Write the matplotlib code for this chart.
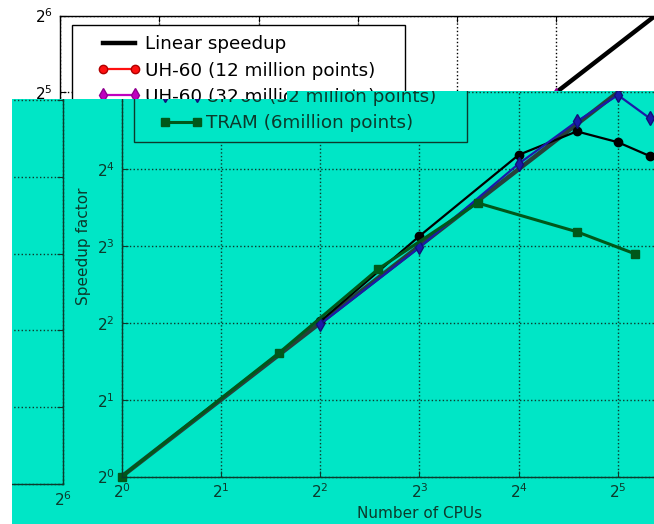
#!/usr/bin/env python3
import numpy as np
import matplotlib
matplotlib.use('Agg')
from matplotlib import pyplot as plt
from matplotlib.lines import Line2D
from matplotlib.legend_handler import HandlerLine2D
from matplotlib.patches import Polygon
from matplotlib.ticker import FixedLocator, NullLocator, FuncFormatter
from matplotlib.transforms import Bbox, TransformedBbox


W, H = 654, 524

linear_cpus = [1, 64]
linear_speedup = [1, 64]
uh60_12m_cpus = [4, 8, 16, 24, 32, 40]
uh60_12m_speedup = [4.05, 8.75, 18.2, 22.5, 20.4, 18.0]
uh60_32m_cpus = [4, 8, 16, 24, 32, 40]
uh60_32m_speedup = [3.95, 7.9, 16.8, 24.6, 31.2, 25.3]
tram_cpus = [1, 3, 6, 12, 24, 36]
tram_speedup = [1, 3.05, 6.5, 11.8, 9.1, 7.46]
powers = [0, 1, 2, 3, 4, 5, 6]
labels = ['Linear speedup', 'UH-60 (12 million points)',
          'UH-60 (32 million points)', 'TRAM (6million points)']

PLAIN = dict(face='white', fg='black', linear='black',
             c12='#ff1010', e12='#b00000', c32='#c000c0', e32='#900090',
             tram='#006400')
TINTED = dict(face='#00e6c6', fg='#0c3a2c', linear='#26403a',
              c12='#000000', e12='#000000', c32='#1a1aa8', e32='#101078',
              tram='#00581a')

# axes box in pixels from the top-left corner
AX_LEFT, AX_TOP, AX_W, AX_H = 60, 15.5, 595.5, 461


def px_box(x0, y0, x1, y1):
    return Bbox.from_extents(x0 / W, 1 - y1 / H, x1 / W, 1 - y0 / H)


def draw_panel(fig, dx, dy, pal, zorder):
    rect = [(AX_LEFT + dx) / W, 1 - (AX_TOP + dy + AX_H) / H, AX_W / W, AX_H / H]
    ax = fig.add_axes(rect, zorder=zorder)
    ax.set_xscale('log', base=2)
    ax.set_yscale('log', base=2)
    ax.patch.set_facecolor(pal['face'] if pal is PLAIN else 'none')

    ax.plot(linear_cpus, linear_speedup, color=pal['linear'], lw=3.2, label=labels[0])
    ax.plot(uh60_12m_cpus, uh60_12m_speedup, '-o', color=pal['c12'], mec=pal['e12'],
            lw=1.6, ms=6, label=labels[1])
    ax.plot(uh60_32m_cpus, uh60_32m_speedup, '-d', color=pal['c32'], mec=pal['e32'],
            lw=1.6, ms=7, label=labels[2])
    ax.plot(tram_cpus, tram_speedup, '-s', color=pal['tram'], mec=pal['tram'],
            lw=2.2, ms=6, label=labels[3])

    ticks = [2 ** p for p in powers]
    fmt = FuncFormatter(lambda v, pos: r'$\mathdefault{2^{%d}}$' % int(round(np.log2(v))))
    for axis in (ax.xaxis, ax.yaxis):
        axis.set_major_locator(FixedLocator(ticks))
        axis.set_minor_locator(NullLocator())
        axis.set_major_formatter(fmt)
    ax.set_xlim(1, 64)
    ax.set_ylim(1, 64)
    ax.tick_params(direction='in', top=True, right=True, length=4, width=0.8,
                   labelsize=11, colors=pal['fg'])
    ax.tick_params(axis='x', pad=4.5)
    ax.tick_params(axis='y', pad=5)
    ax.grid(True, ls=':', lw=1, color=pal['fg'])
    for sp in ax.spines.values():
        sp.set_color(pal['fg'])
        sp.set_linewidth(1)

    ax.set_xlabel('Number of CPUs', fontsize=11, color=pal['fg'])
    ax.set_ylabel('Speedup factor', fontsize=11, color=pal['fg'])
    ax.xaxis.set_label_coords(0.5, -0.064)
    ax.yaxis.set_label_coords(-0.052, 0.5)

    ax.legend(loc='upper left', mode='expand', borderaxespad=0,
              bbox_to_anchor=((72 + dx) / W, 1 - (25 + dy) / H, 333 / W, 0),
              bbox_transform=fig.transFigure, fontsize=13.2, borderpad=0.56,
              labelspacing=0.45, handlelength=3.2, handletextpad=0.2,
              handler_map={Line2D: HandlerLine2D(numpoints=2, xpad=0.82)},
              fancybox=False, framealpha=1, facecolor=pal['face'],
              edgecolor=pal['fg'], labelcolor=pal['fg'])
    return ax


def clip_to(fig, ax, box):
    clip = TransformedBbox(px_box(*box), fig.transFigure)
    for art in ax.findobj():
        art.set_clip_on(True)
        art.set_clip_box(clip)


fig = plt.figure(figsize=(W / 100, H / 100), dpi=100, facecolor='white')
draw_panel(fig, 0, 0, PLAIN, 0)

# tinted band over the lower part, stepped along its top edge
band = [(12, 99), (287, 99), (287, 91), (654, 91), (654, 524), (12, 524)]
fig.add_artist(Polygon([(x / W, 1 - y / H) for x, y in band], closed=True,
                       transform=fig.transFigure, fc=TINTED['face'], ec='none',
                       zorder=1))

copies = [(61.7, 0, (72, 99, 654, 524)),
          (61.7, 0, (287, 91, 654, 99)),
          (-592.5, 7.5, (12, 99, 72, 524))]
tinted_axes = [(draw_panel(fig, dx, dy, TINTED, 2), box) for dx, dy, box in copies]

fig.canvas.draw()
for ax, box in tinted_axes:
    clip_to(fig, ax, box)

fig.savefig('out.png', dpi=100, facecolor='white')
